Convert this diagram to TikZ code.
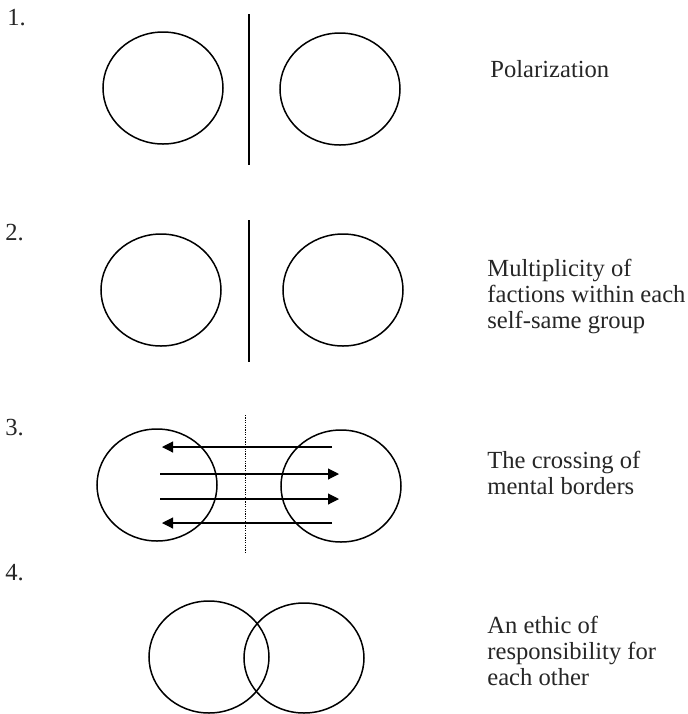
\documentclass[tikz,border=0pt]{standalone}
\usepackage{fontspec}
\setmainfont{Liberation Serif}
\usetikzlibrary{arrows.meta}
\tikzset{
	ring/.style={line width=0.75pt},
	wall/.style={line width=0.8pt},
	flow/.style={line width=0.55pt,-{Triangle[length=5.5pt,width=5.5pt]}},
	caption/.style={anchor=base west,inner sep=0pt,align=left,font=\fontsize{12.3}{13}\selectfont,text=black!85},
}

\begin{document}
\begin{tikzpicture}[x=0.5pt,y=-0.5pt]
			%%%%% START %%%%%
			\useasboundingbox (0,0) rectangle (688,714);
			
			% 1. polarization
			\node[caption] (num1) at (7,25) {1.};
			\draw[ring] (163,88) ellipse (60 and 56);
			\draw[ring] (340,89) ellipse (60 and 56);
			\draw[wall] (249,14) -- (249,165);
			\node[caption] (txt1) at (490,77) {Polarization};
			
			% 2. multiplicity (base = last line)
			\node[caption] (num2) at (5,240) {2.};
			\draw[ring] (161,290) ellipse (60 and 56);
			\draw[ring] (343,290) ellipse (60 and 56);
			\draw[wall] (249,220) -- (249,362);
			\node[caption] (txt2) at (487,328) {Multiplicity of\\factions within each\\self-same group};
			
			% 3. crossing
			\node[caption] (num3) at (5,435) {3.};
			\draw[ring] (157,485) ellipse (60 and 56);
			\draw[ring] (341,486) ellipse (60 and 56);
			\draw[line width=0.45pt,dash pattern=on 0.6pt off 0.6pt] (245,415) -- (245,552);
			\draw[flow] (332,447) -- (162,447);
			\draw[flow] (160,474) -- (339,474);
			\draw[flow] (160,499) -- (339,499);
			\draw[flow] (332,523) -- (162,523);
			\node[caption] (txt3) at (487,494) {The crossing of\\mental borders};
			
			% 4. responsibility
			\node[caption] (num4) at (5,580) {4.};
			\draw[ring] (209,657) ellipse (60 and 56);
			\draw[ring] (304,658) ellipse (60 and 55);
			\node[caption] (txt4) at (487,685) {An ethic of\\responsibility for\\each other};
			
			%%%%% END %%%%%
		\end{tikzpicture}
\end{document}
